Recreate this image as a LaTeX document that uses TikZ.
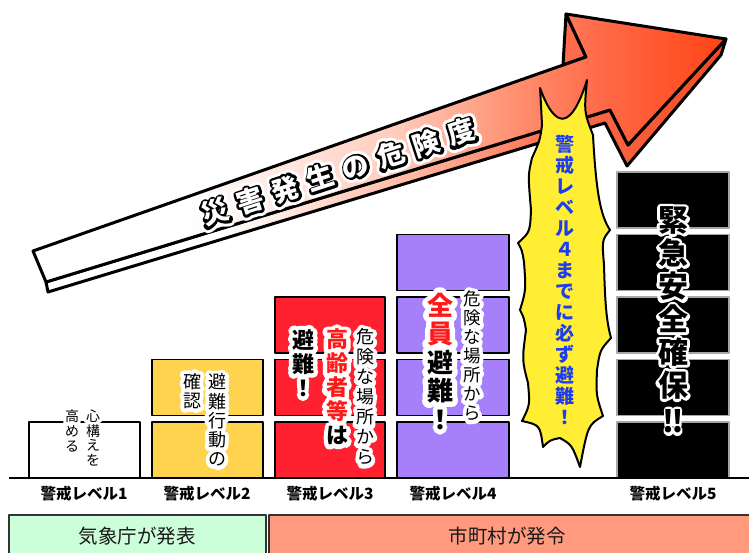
\documentclass[tikz,border=0pt]{standalone}
\usepackage{fontspec}
\newfontfamily\jp{Noto Sans CJK JP}
\newfontfamily\jpHa{Noto Sans CJK JP}[FakeBold=22]
\newfontfamily\jpHb{Noto Sans CJK JP}[FakeBold=44]
\definecolor{arrowpink}{HTML}{FFCCBE}
\definecolor{arrowsalmon}{HTML}{FF8E6E}
\definecolor{arrowmid}{HTML}{FF6A48}
\definecolor{arrowtip}{HTML}{FF4314}
\definecolor{sidepink}{HTML}{FFB8A0}
\definecolor{sidemid}{HTML}{FF7050}
\definecolor{sidetip}{HTML}{F04A20}
\definecolor{lvtwo}{HTML}{FFD34E}
\definecolor{lvthree}{HTML}{FF2030}
\definecolor{lvfour}{HTML}{A580FA}
\definecolor{burstyellow}{HTML}{FFEE33}
\definecolor{burstblue}{HTML}{1E3CF0}
\definecolor{cR}{HTML}{FF1A1A}
\definecolor{jmagreen}{HTML}{CCFFD9}
\definecolor{citysalmon}{HTML}{FF9A7E}
\pgfdeclarehorizontalshading{arrowfront}{100bp}{color(0bp)=(white); color(36bp)=(white); color(51bp)=(arrowpink); color(60bp)=(arrowsalmon); color(66bp)=(arrowmid); color(75bp)=(arrowtip); color(100bp)=(arrowtip)}
\pgfdeclarehorizontalshading{arrowside}{100bp}{color(0bp)=(white); color(38bp)=(white); color(52bp)=(sidepink); color(62bp)=(sidemid); color(75bp)=(sidetip); color(100bp)=(sidetip)}
\tikzset{
  outl/.style={draw=black, line width=3pt, line join=round},
  blk/.style={draw=black, line width=1.8pt},
  blkfive/.style={draw=black!35, line width=1.2pt, fill=black},
  vtx/.style={align=center, inner sep=0pt},
  lbl/.style={font=\jp\bfseries\fontsize{15.5}{15.5}\selectfont, inner sep=0pt},
  burst/.style={draw=black, line width=2pt, fill=burstyellow, line join=round},
  bottombox/.style={draw=black!80, line width=1.5pt},
  bottomtxt/.style={font=\jp\fontsize{19.5}{20}\selectfont, inner sep=0pt, text=black!90},
}
\newcommand\vt[7]{%
  \node[vtx, font={\colorlet{cR}{white}#5\fontsize{#3}{#4}\selectfont}, text=white] at (#2) {#7};
  \node[vtx, font={#6\fontsize{#3}{#4}\selectfont}, text=black] (#1) at (#2) {#7};}
\newcommand\ac[1]{\makebox[37pt]{#1}}
\begin{document}
\begin{tikzpicture}[x=1pt,y=-1pt,line join=round]
\useasboundingbox (0,0) rectangle (749,552);
\clip (0,0) rectangle (749,552);
\fill[white] (0,0) rectangle (749,552);
% ---- big arrow ----
\coordinate (A) at (33,251);
\coordinate (B) at (586,57);
\coordinate (C) at (566,14);
\coordinate (D) at (726,39);
\coordinate (E) at (628,145);
\coordinate (F) at (610,110);
\coordinate (G) at (46,282);
\coordinate (Dp) at (721,55);
\coordinate (Ep) at (627,166);
\coordinate (Fp) at (605,123);
\coordinate (Gp) at (48,292);
\coordinate (Cb) at (563,65);
\shadedraw[shading=arrowside, outl] (G) -- (F) -- (E) -- (D) -- (Dp) -- (Ep) -- (Fp) -- (Gp) -- cycle;
\filldraw[fill=arrowmid, outl] (C) -- (Cb) -- (B) -- cycle;
\shadedraw[shading=arrowfront, outl] (A) -- (B) -- (C) -- (D) -- (E) -- (F) -- (G) -- cycle;
\node[rotate=18, inner sep=0pt, text=white, font=\jpHb\fontsize{27}{27}\selectfont] at (338,172) {\ac{災}\ac{害}\ac{発}\ac{生}\ac{の}\ac{危}\ac{険}\ac{度}};
\node[rotate=18, inner sep=0pt, text=black, font=\jpHa\fontsize{27}{27}\selectfont] at (338,172) {\ac{災}\ac{害}\ac{発}\ac{生}\ac{の}\ac{危}\ac{険}\ac{度}};
\node[rotate=18, inner sep=0pt, text=white, font=\jp\bfseries\fontsize{27}{27}\selectfont] (arrowtxt) at (338,172) {\ac{災}\ac{害}\ac{発}\ac{生}\ac{の}\ac{危}\ac{険}\ac{度}};
% ---- burst ----
\draw[burst] (540,88)
  .. controls (556,132) and (572,128) .. (587,80)
  .. controls (584,112) .. (593,135)
  .. controls (596,190) and (600,215) .. (610,230)
  .. controls (602,240) .. (604,265)
  .. controls (605,300) and (606,320) .. (611,338)
  .. controls (600,350) .. (597,370)
  .. controls (596,395) .. (603,416)
  .. controls (588,425) .. (580,467)
  .. controls (572,445) .. (560,438)
  .. controls (550,440) .. (543,447)
  .. controls (540,425) .. (522,421)
  .. controls (530,405) .. (528,383)
  .. controls (522,360) .. (526,330)
  .. controls (524,318) .. (520,310)
  .. controls (526,290) .. (524,262)
  .. controls (522,250) .. (518,243)
  .. controls (530,232) .. (531,210)
  .. controls (528,175) .. (532,158)
  .. controls (540,140) .. (542,125)
  .. controls (541,105) .. cycle;
\node[vtx, text=burstblue, font=\jp\bfseries\fontsize{19}{21}\selectfont] (bursttxt) at (565,280) {警\\戒\\レ\\ベ\\ル\\４\\ま\\で\\に\\必\\ず\\避\\難\\！};
% ---- blocks ----
\draw[blk, fill=white] (29,422) rectangle (140,478);
\foreach \t in {422,359.5} \draw[blk, fill=lvtwo] (152,\t) rectangle (263,{\t+56});
\foreach \t in {422,359.5,297} \draw[blk, fill=lvthree] (275,\t) rectangle (385,{\t+56});
\foreach \t in {422,359.5,297,234.5} \draw[blk, fill=lvfour] (397,\t) rectangle (509,{\t+56});
\foreach \t in {422,359.5,297,234.5,172} \draw[blkfive] (617,\t) rectangle (729,{\t+56});
\draw[line width=2pt] (9,478) -- (749,478);
% ---- block texts ----
\vt{t1r}{93,438}{14}{14.8}{\jpHb}{\jp}{心\\構\\え\\を}
\vt{t1l}{72,431}{14}{14.8}{\jpHb}{\jp}{高\\め\\る}
\vt{t2r}{217,420}{18}{19.2}{\jpHb}{\jp}{避\\難\\行\\動\\の}
\vt{t2l}{192,391}{18}{19.2}{\jpHb}{\jp}{確\\認}
\vt{t3r}{365,397}{18}{20}{\jpHb}{\jp}{危\\険\\な\\場\\所\\か\\ら}
\vt{t3m}{337,387}{22}{24}{\jpHb}{\jp\bfseries}{\textcolor{cR}{高}\\\textcolor{cR}{齢}\\\textcolor{cR}{者}\\\textcolor{cR}{等}\\は}
\vt{t3l}{303,363}{22}{24}{\jpHb}{\jp\bfseries}{避\\難\\！}
\vt{t4r}{472,356}{17.5}{19}{\jpHb}{\jp}{危\\険\\な\\場\\所\\か\\ら}
\vt{t4l}{440,361}{26}{28.5}{\jpHb}{\jp\bfseries}{\textcolor{cR}{全}\\\textcolor{cR}{員}\\避\\難\\！}
\vt{t5}{673,320}{30}{33}{\jpHa}{\jp\bfseries}{緊\\急\\安\\全\\確\\保\\[3pt]‼}
% ---- level labels ----
\node[lbl] (lv1) at (84,494) {警戒レベル1};
\node[lbl] (lv2) at (207,494) {警戒レベル2};
\node[lbl] (lv3) at (330,494) {警戒レベル3};
\node[lbl] (lv4) at (453,494) {警戒レベル4};
\node[lbl] (lv5) at (673,494) {警戒レベル5};
% ---- bottom bar ----
\draw[bottombox, fill=jmagreen] (9,515) rectangle (266,560);
\draw[bottombox, fill=citysalmon] (269,515) rectangle (760,560);
\node[bottomtxt] (jma) at (137,536) {気象庁が発表};
\node[bottomtxt] (city) at (507,536) {市町村が発令};
\end{tikzpicture}
\end{document}
